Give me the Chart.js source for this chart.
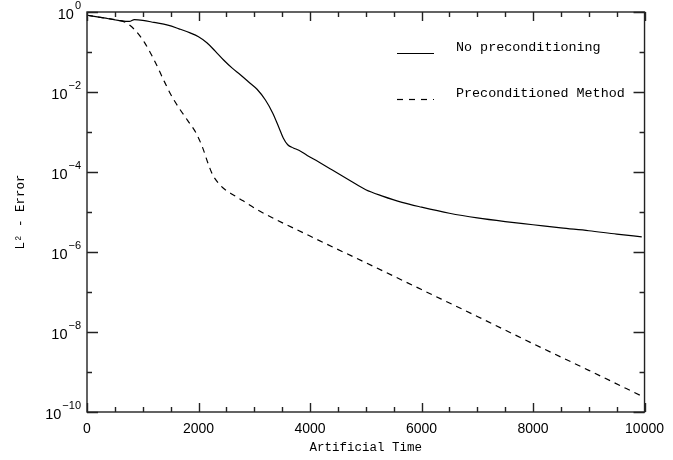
<!DOCTYPE html>
<html>
<head>
<meta charset="utf-8">
<script src="https://cdn.jsdelivr.net/npm/chart.js@4"></script>
<style>
html,body{margin:0;padding:0;background:#fff;}
#wrap{width:673px;height:460px;}
</style>
</head>
<body>
<div id="wrap"><canvas id="c" width="673" height="460"></canvas></div>
<script>
// ---- data ----
const seriesLabels = ["No preconditioning", "Preconditioned Method"];
const solidTime = [0, 300, 560, 760, 850, 1000, 1200, 1450, 1650, 1850, 2000, 2150, 2300, 2450, 2600, 2750, 2900, 3050, 3200, 3330, 3440, 3520, 3600, 3700, 3800, 3950, 4150, 4400, 4700, 5000, 5300, 5650, 6000, 6500, 7000, 7500, 8000, 8500, 9000, 9500, 9950];
const solidError = [0.83, 0.71, 0.62, 0.58, 0.645, 0.62, 0.55, 0.47, 0.38, 0.30, 0.24, 0.17, 0.105, 0.063, 0.040, 0.0269, 0.0178, 0.0117, 6.3e-3, 3.0e-3, 1.32e-3, 7.1e-4, 4.8e-4, 4.0e-4, 3.5e-4, 2.6e-4, 1.8e-4, 1.12e-4, 6.3e-5, 3.6e-5, 2.5e-5, 1.74e-5, 1.32e-5, 9.3e-6, 7.1e-6, 5.75e-6, 4.8e-6, 4.0e-6, 3.4e-6, 2.8e-6, 2.4e-6];
const dashedTime = [0, 300, 560, 700, 860, 1030, 1240, 1360, 1510, 1660, 1810, 1955, 2070, 2170, 2250, 2350, 2480, 2610, 2800, 3025, 4000, 5000, 6000, 7000, 8000, 9000, 9950];
const dashedError = [0.83, 0.71, 0.62, 0.54, 0.355, 0.174, 0.050, 0.0219, 8.3e-3, 3.8e-3, 1.9e-3, 9.5e-4, 4.2e-4, 1.66e-4, 8.7e-5, 5.4e-5, 3.6e-5, 2.75e-5, 1.9e-5, 1.2e-5, 2.5e-6, 5.4e-7, 1.15e-7, 2.45e-8, 5.1e-9, 1.1e-9, 2.5e-10];
const xTickValues = [0, 2000, 4000, 6000, 8000, 10000];
const yDecades = [0, -1, -2, -3, -4, -5, -6, -7, -8, -9, -10];
const yLabelExponents = [0, -2, -4, -6, -8, -10];
const xTitle = "Artificial Time";
const yTitle = "L² - Error";

const MONO = "'Liberation Mono', 'DejaVu Sans Mono', monospace";
const SANS = "'Liberation Sans', Arial, sans-serif";
const INK = "#000";

function toPts(xs, ys){ return xs.map((x,i)=>({x:x, y:ys[i]})); }

const frameTicks = {
  id: 'frameTicks',
  afterDatasetsDraw(chart){
    const {ctx, chartArea:a, scales:{x, y}} = chart;
    ctx.save();
    ctx.strokeStyle = "#222";
    ctx.lineWidth = 1.4;
    ctx.strokeRect(a.left, a.top, a.right - a.left, a.bottom - a.top);
    ctx.beginPath();
    for (let v = 0; v <= 10000; v += 500) {
      const px = Math.round(x.getPixelForValue(v)) + 0.5;
      const len = (v % 2000 === 0) ? 9 : 5;
      ctx.moveTo(px, a.bottom); ctx.lineTo(px, a.bottom - len);
      ctx.moveTo(px, a.top); ctx.lineTo(px, a.top + len);
    }
    yDecades.forEach(e => {
      const py = Math.round(y.getPixelForValue(Math.pow(10, e))) + 0.5;
      const len = (e % 2 === 0) ? 11 : 5;
      ctx.moveTo(a.left, py); ctx.lineTo(a.left + len, py);
      ctx.moveTo(a.right, py); ctx.lineTo(a.right - len, py);
    });
    ctx.stroke();
    ctx.restore();
  }
};

// y tick labels as 10 with a raised exponent
const powerLabels = {
  id: 'powerLabels',
  afterDraw(chart){
    const {ctx, chartArea:a, scales:{y}} = chart;
    ctx.save();
    ctx.fillStyle = INK;
    ctx.textBaseline = 'alphabetic';
    ctx.textAlign = 'right';
    const right = a.left - 6;
    yLabelExponents.forEach(e => {
      const py = y.getPixelForValue(Math.pow(10, e));
      const expText = e === 0 ? "0" : "\u2212" + String(-e);
      ctx.font = "11px " + SANS;
      const w = ctx.measureText(expText).width;
      ctx.fillText(expText, right, py - 3);
      ctx.font = "14.5px " + SANS;
      ctx.fillText("10", right - w - 1, py + 7);
    });
    ctx.restore();
  }
};

const insideLegend = {
  id: 'insideLegend',
  afterDraw(chart){
    const ctx = chart.ctx;
    ctx.save();
    ctx.strokeStyle = INK;
    ctx.fillStyle = INK;
    ctx.lineWidth = 1.2;
    ctx.font = "13.4px " + MONO;
    ctx.textBaseline = 'alphabetic';
    ctx.textAlign = 'left';
    const rows = [{y:53, dash:[], ty:51}, {y:99, dash:[6,6], ty:97}];
    chart.data.datasets.forEach((ds, i) => {
      const r = rows[i];
      ctx.setLineDash(r.dash);
      ctx.beginPath();
      ctx.moveTo(397, r.y + 0.5); ctx.lineTo(434, r.y + 0.5);
      ctx.stroke();
      ctx.setLineDash([]);
      ctx.fillText(ds.label, 456, r.ty);
    });
    ctx.restore();
  }
};

new Chart(document.getElementById('c'), {
  type: 'line',
  data: {
    datasets: [
      { label: seriesLabels[0], data: toPts(solidTime, solidError), borderColor: INK, borderWidth: 1.2, pointRadius: 0, fill: false, cubicInterpolationMode: 'monotone' },
      { label: seriesLabels[1], data: toPts(dashedTime, dashedError), borderColor: INK, borderWidth: 1.2, borderDash: [6,5], pointRadius: 0, fill: false, cubicInterpolationMode: 'monotone' }
    ]
  },
  options: {
    responsive: false,
    animation: false,
    devicePixelRatio: 1,
    layout: { padding: { top: 12, right: 23, left: 0, bottom: 0 } },
    plugins: { legend: { display: false }, tooltip: { enabled: false }, title: { display: false } },
    scales: {
      x: {
        type: 'linear', min: 0, max: 10000,
        grid: { display: false, drawTicks: false },
        border: { display: false },
        afterBuildTicks(scale){ scale.ticks = xTickValues.map(v => ({value: v})); },
        afterFit(scale){ scale.height = 48; },
        ticks: { autoSkip: false, maxRotation: 0, padding: 9, color: INK, font: { family: SANS, size: 14 }, callback: v => String(v) },
        title: { display: true, text: xTitle, color: INK, font: { family: MONO, size: 12.5 }, padding: { top: 0, bottom: 5 } }
      },
      y: {
        type: 'logarithmic', min: 1e-10, max: 1,
        grid: { display: false, drawTicks: false },
        border: { display: false },
        afterBuildTicks(scale){ scale.ticks = yLabelExponents.map(e => ({value: Math.pow(10, e)})); },
        afterFit(scale){ scale.width = 87; },
        ticks: { display: false },
        title: { display: true, text: yTitle, color: INK, font: { family: MONO, size: 12.5 }, padding: { top: 13, bottom: 0 } }
      }
    }
  },
  plugins: [frameTicks, powerLabels, insideLegend]
});
</script>
</body>
</html>
